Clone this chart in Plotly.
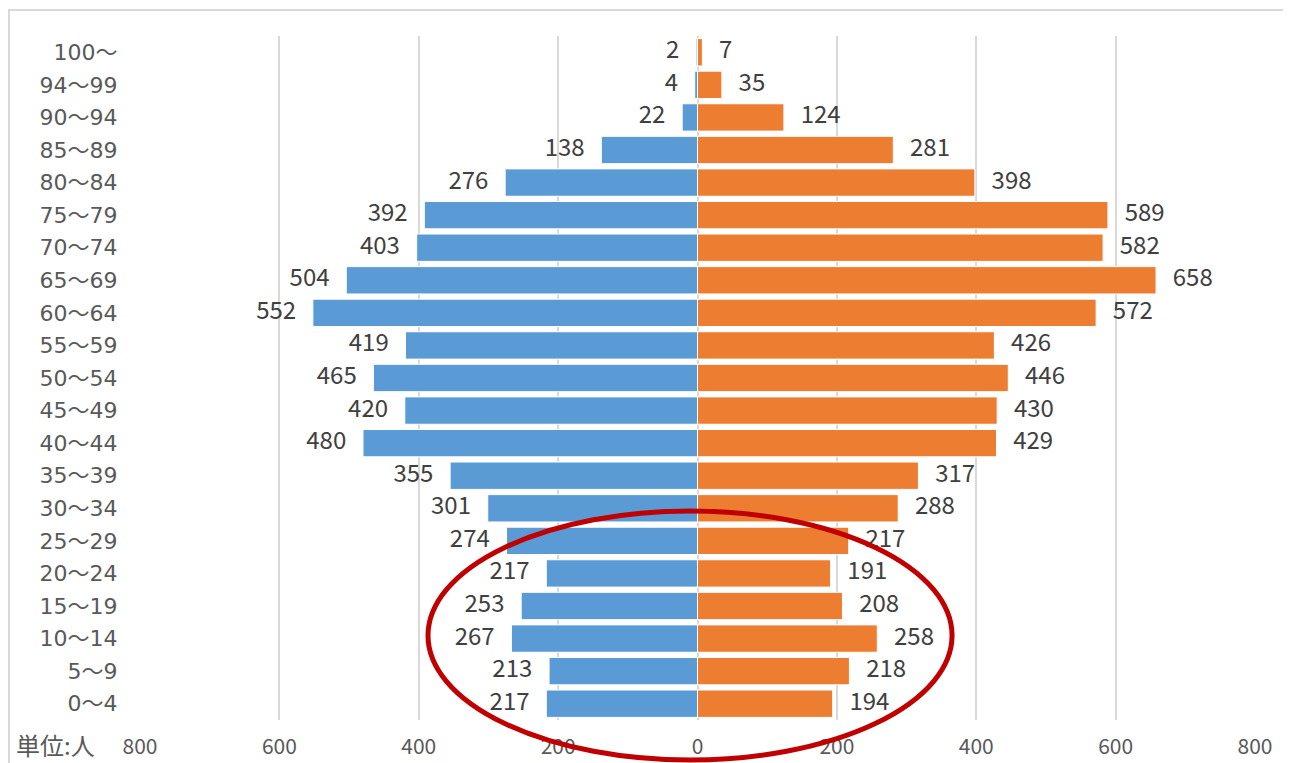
import plotly.graph_objects as go

ages = ["100～", "94～99", "90～94", "85～89", "80～84", "75～79", "70～74", "65～69",
        "60～64", "55～59", "50～54", "45～49", "40～44", "35～39", "30～34", "25～29",
        "20～24", "15～19", "10～14", "5～9", "0～4"]
male = [2, 4, 22, 138, 276, 392, 403, 504, 552, 419, 465, 420, 480, 355, 301, 274,
        217, 253, 267, 213, 217]
female = [7, 35, 124, 281, 398, 589, 582, 658, 572, 426, 446, 430, 429, 317, 288, 217,
          191, 208, 258, 218, 194]
tick_vals = [-800, -600, -400, -200, 0, 200, 400, 600, 800]
tick_text = ["800", "600", "400", "200", "0", "200", "400", "600", "800"]

FONT = "Noto Sans CJK JP"
BLUE = "#5B9BD5"
ORANGE = "#ED7D31"
GAP = 24  # label offset in data units

# y tick labels: wide digits with a full-width CJK wave
age_ticktext = [a.replace("～", '<span style="font-family:Noto Sans CJK JP">～</span>')
                for a in ages]

fig = go.Figure()
fig.add_trace(go.Bar(y=ages, x=[-v for v in male], orientation="h",
                     marker=dict(color=BLUE, line=dict(color="white", width=1)),
                     hoverinfo="skip", showlegend=False))
fig.add_trace(go.Bar(y=ages, x=female, orientation="h",
                     marker=dict(color=ORANGE, line=dict(color="white", width=1)),
                     hoverinfo="skip", showlegend=False))
fig.add_trace(go.Scatter(y=ages, x=[-v - GAP for v in male], mode="text",
                         text=[str(v) for v in male], textposition="middle left",
                         textfont=dict(family=FONT, size=24, color="#404040"),
                         hoverinfo="skip", showlegend=False))
fig.add_trace(go.Scatter(y=ages, x=[v + GAP for v in female], mode="text",
                         text=[str(v) for v in female], textposition="middle right",
                         textfont=dict(family=FONT, size=24, color="#404040"),
                         hoverinfo="skip", showlegend=False))

fig.update_layout(
    width=1291, height=763,
    margin=dict(l=132, r=44, t=28, b=51),
    paper_bgcolor="white", plot_bgcolor="white",
    barmode="relative", bargap=0.16,
    xaxis=dict(range=[-800, 800], tickvals=tick_vals, ticktext=tick_text,
               automargin=False,
               showgrid=True, gridcolor="#D9D9D9", gridwidth=2,
               zeroline=True, zerolinecolor="#D9D9D9", zerolinewidth=2,
               showline=False, ticks="outside", ticklen=8, tickcolor="rgba(0,0,0,0)",
               tickfont=dict(family=FONT, size=21, color="#595959"), fixedrange=True),
    yaxis=dict(categoryorder="array", categoryarray=ages[::-1], range=[-0.5, 20.5],
               tickvals=ages, ticktext=age_ticktext, automargin=False,
               showgrid=False, zeroline=False, showline=False,
               ticks="outside", ticklen=17, tickcolor="rgba(0,0,0,0)",
               tickfont=dict(family="DejaVu Sans", size=22, color="#595959"),
               fixedrange=True),
    font=dict(family=FONT),
)

# outer frame
fig.add_shape(type="rect", xref="paper", yref="paper",
              x0=-0.1175, x1=1.06, y0=-0.2, y1=1.038,
              line=dict(color="#D9D9D9", width=2), layer="below")
# red ellipse highlighting the young population
fig.add_shape(type="circle", xref="paper", yref="paper",
              x0=0.2583, x1=0.7283, y0=-0.0585, y1=0.3056,
              line=dict(color="#C00000", width=5), layer="above")

fig.add_annotation(text="単位:人", xref="paper", yref="paper",
                   x=-0.113, y=-0.0365, xanchor="left", yanchor="middle",
                   showarrow=False, font=dict(family=FONT, size=24, color="#595959"))

fig.write_html("out.html")
